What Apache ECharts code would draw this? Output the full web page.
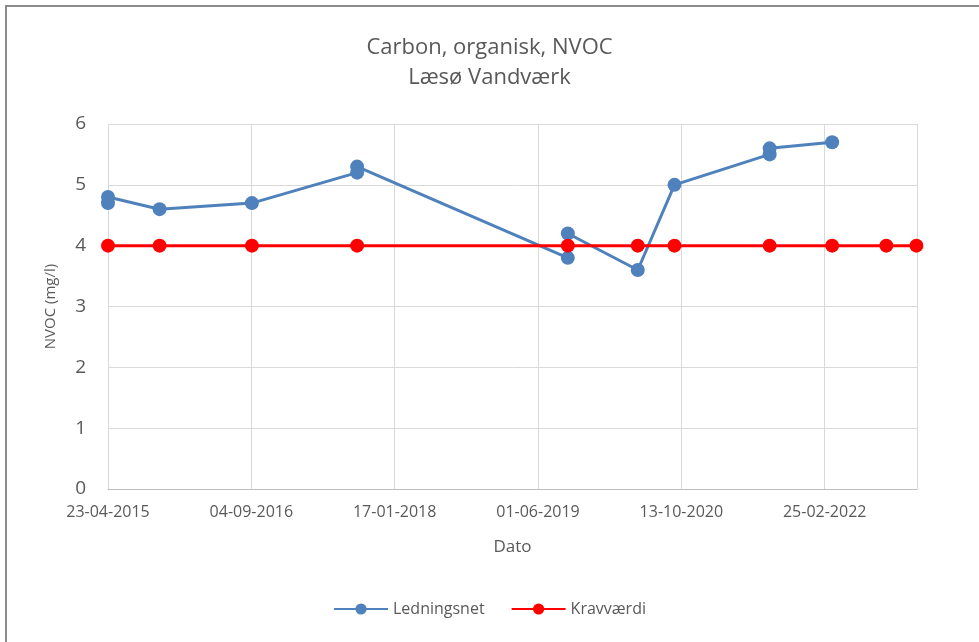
<!DOCTYPE html>
<html>
<head>
<meta charset="utf-8">
<script src="https://cdn.jsdelivr.net/npm/echarts@6/dist/echarts.min.js"></script>
<style>
  html, body { margin: 0; padding: 0; background: #fff; }
  #frame { position: absolute; left: 5px; top: 5px; width: 974px; height: 637px;
           border-left: 2px solid #8c8c8c; border-top: 2px solid #8c8c8c; }
  #chart { position: absolute; left: 0; top: 0; width: 979px; height: 642px; }
</style>
</head>
<body>
<div id="frame"></div>
<div id="chart"></div>
<script>
// første dato på aksen, akse-ticks hver 500 dage
var startDate = "2015-04-23";

// Ledningsnet målinger (dato, mg/l) i tegne-rækkefølge
var ledDates = ["2015-04-23", "2015-04-23", "2015-10-20", "2016-09-06", "2017-09-08", "2017-09-08",
                "2019-09-13", "2019-09-13", "2020-05-14", "2020-09-19", "2021-08-17", "2021-08-17", "2022-03-23"];
var ledValues = [4.7, 4.8, 4.6, 4.7, 5.2, 5.3, 3.8, 4.2, 3.6, 5.0, 5.5, 5.6, 5.7];

// Kravværdi
var kravDates = ["2015-04-23", "2015-10-20", "2016-09-06", "2017-09-08", "2019-09-13", "2020-05-14",
                 "2020-09-19", "2021-08-17", "2022-03-23", "2022-09-28", "2023-01-11"];
var kravValues = [4, 4, 4, 4, 4, 4, 4, 4, 4, 4, 4];

var DAY = 86400000;
function dayOffset(s) {
  return Math.round((Date.parse(s) - Date.parse(startDate)) / DAY);
}
function fmtDate(off) {
  var d = new Date(Date.parse(startDate) + off * DAY);
  var dd = String(d.getUTCDate()).padStart(2, "0");
  var mm = String(d.getUTCMonth() + 1).padStart(2, "0");
  return dd + "-" + mm + "-" + d.getUTCFullYear();
}
function pairs(dates, vals) {
  return dates.map(function (d, i) { return [dayOffset(d), vals[i]]; });
}

var font = "'Open Sans', 'Noto Sans', sans-serif";
var txt = "#595959";

var myChart = echarts.init(document.getElementById("chart"), null, { renderer: "canvas" });
var option = {
  animation: false,
  textStyle: { fontFamily: font },
  title: {
    text: "Carbon, organisk, NVOC\nLæsø Vandværk",
    left: "center",
    top: 28,
    textStyle: { fontFamily: font, fontSize: 22, fontWeight: "normal", color: txt, lineHeight: 30 }
  },
  color: ["#4F81BD", "#FF0000"],
  legend: {
    bottom: 20,
    left: "center",
    itemWidth: 54,
    itemHeight: 14,
    itemGap: 26,
    textStyle: { fontFamily: font, fontSize: 16, color: txt }
  },
  grid: { left: 108, right: 62, top: 124, bottom: 153 },
  xAxis: {
    type: "value",
    min: 0,
    max: 2822,
    interval: 500,
    name: "Dato",
    nameLocation: "middle",
    nameGap: 50,
    nameTextStyle: { fontFamily: font, fontSize: 17, color: txt },
    axisLine: { lineStyle: { color: "#BFBFBF", width: 1 } },
    axisTick: { show: false },
    axisLabel: { formatter: fmtDate, fontFamily: font, fontSize: 16, color: txt, margin: 15, showMaxLabel: false },
    splitLine: { lineStyle: { color: "#D9D9D9", width: 1 } }
  },
  yAxis: {
    type: "value",
    min: 0,
    max: 6,
    interval: 1,
    name: "NVOC (mg/l)",
    nameLocation: "middle",
    nameGap: 50,
    nameTextStyle: { fontFamily: font, fontSize: 15, color: txt },
    axisLine: { show: false },
    axisTick: { show: false },
    axisLabel: { fontFamily: font, fontSize: 19, color: txt, margin: 22 },
    splitLine: { lineStyle: { color: "#D9D9D9", width: 1 } }
  },
  series: [
    {
      name: "Ledningsnet",
      type: "line",
      data: pairs(ledDates, ledValues),
      symbol: "circle",
      symbolSize: 14,
      lineStyle: { width: 3 },
      itemStyle: { color: "#4F81BD" }
    },
    {
      name: "Kravværdi",
      type: "line",
      data: pairs(kravDates, kravValues),
      symbol: "circle",
      symbolSize: 14,
      lineStyle: { width: 3 },
      itemStyle: { color: "#FF0000" },
      clip: false
    }
  ]
};
myChart.setOption(option);
</script>
</body>
</html>
